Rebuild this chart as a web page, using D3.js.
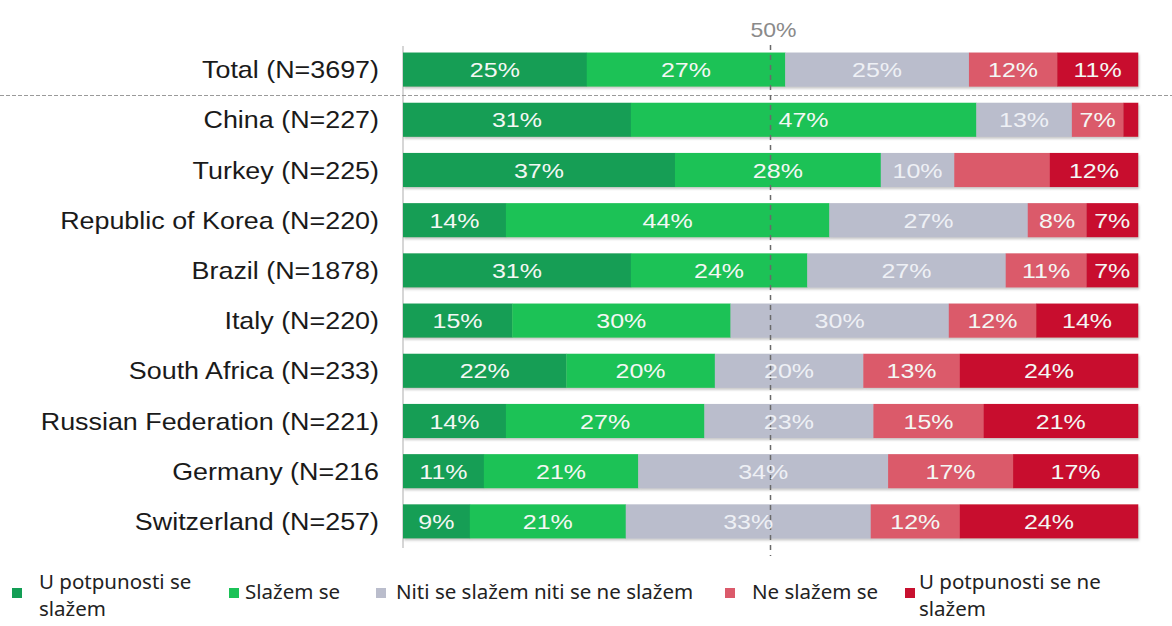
<!DOCTYPE html>
<html>
<head>
<meta charset="utf-8">
<script src="https://cdn.jsdelivr.net/npm/d3@7"></script>
<style>
  body { margin: 0; background: #fff; }
  svg { display: block; }
</style>
</head>
<body>
<div id="chart"></div>
<script>
const countries = ["Total (N=3697)", "China (N=227)", "Turkey (N=225)", "Republic of Korea (N=220)",
  "Brazil (N=1878)", "Italy (N=220)", "South Africa (N=233)", "Russian Federation (N=221)",
  "Germany (N=216", "Switzerland (N=257)"];

const answers = ["U potpunosti se slažem", "Slažem se", "Niti se slažem niti se ne slažem",
  "Ne slažem se", "U potpunosti se ne slažem"];

// percentages per country, same order as answers
const stronglyAgree = [25, 31, 37, 14, 31, 15, 22, 14, 11, 9];
const agree = [27, 47, 28, 44, 24, 30, 20, 27, 21, 21];
const neutral = [25, 13, 10, 27, 27, 30, 20, 23, 34, 33];
const disagree = [12, 7, 13, 8, 11, 12, 13, 15, 17, 12];
const stronglyDisagree = [11, 2, 12, 7, 7, 14, 24, 21, 17, 24];

// segments printed without a number in the picture: [country index, answer index]
const unlabeled = [[1, 4], [2, 3]];

const colors = ["#139e55", "#1bc257", "#babdcc", "#db5a6b", "#c8112f"];

const width = 1172, height = 626;
const svg = d3.select("#chart").append("svg")
  .attr("width", width)
  .attr("height", height);

const defs = svg.append("defs");
defs.append("filter").attr("id", "shadow")
  .attr("x", "-5%").attr("y", "-30%").attr("width", "110%").attr("height", "170%")
  .append("feDropShadow")
  .attr("dx", 1).attr("dy", 2).attr("stdDeviation", 1.2)
  .attr("flood-color", "#888").attr("flood-opacity", 0.45);

const x = d3.scaleLinear().domain([0, 1]).range([403, 1138]);
const y = d3.scaleBand().domain(countries).range([44.5, 546.5])
  .paddingInner(0.32).paddingOuter(0.16);

const series = [stronglyAgree, agree, neutral, disagree, stronglyDisagree];

const rows = countries.map((c, i) => {
  const vals = series.map(s => s[i]);
  const sum = d3.sum(vals);
  let acc = 0;
  const segs = vals.map((v, j) => {
    const seg = { country: c, row: i, answer: j, value: v, x0: acc / sum, x1: (acc + v) / sum };
    acc += v;
    return seg;
  });
  return { country: c, segs };
});

// axis line at 0
svg.append("line")
  .attr("x1", x(0)).attr("x2", x(0))
  .attr("y1", 46).attr("y2", 548)
  .attr("stroke", "#c9c9c9").attr("stroke-width", 1.5);

// separator between total and countries
svg.append("line")
  .attr("x1", 0).attr("x2", width)
  .attr("y1", 95.5).attr("y2", 95.5)
  .attr("stroke", "#9a9a9a").attr("stroke-width", 1.2)
  .attr("stroke-dasharray", "4,2");

const rowG = svg.selectAll("g.row")
  .data(rows)
  .join("g")
  .attr("class", "row")
  .attr("filter", "url(#shadow)");

rowG.selectAll("rect")
  .data(d => d.segs)
  .join("rect")
  .attr("x", d => x(d.x0))
  .attr("width", d => x(d.x1) - x(d.x0) + 0.3)
  .attr("y", d => y(d.country))
  .attr("height", y.bandwidth())
  .attr("fill", d => colors[d.answer]);

// dashed 50% marker
svg.append("line")
  .attr("x1", x(0.5)).attr("x2", x(0.5))
  .attr("y1", 45).attr("y2", 556)
  .attr("stroke", "#6a6a6a").attr("stroke-width", 1.5)
  .attr("stroke-dasharray", "5,5");

svg.append("text")
  .attr("transform", `translate(${x(0.5) + 3},37) scale(1.15,1)`)
  .attr("text-anchor", "middle")
  .attr("font-family", "Liberation Sans, Arial, sans-serif")
  .attr("font-size", 20)
  .attr("fill", "#8a8a8a")
  .text("50%");

const isHidden = d => unlabeled.some(u => u[0] === d.row && u[1] === d.answer);

svg.append("g").selectAll("text")
  .data(rows.flatMap(r => r.segs).filter(d => !isHidden(d)))
  .join("text")
  .attr("transform", d => `translate(${(x(d.x0) + x(d.x1)) / 2},${y(d.country) + y.bandwidth() / 2 + 7.5}) scale(1.22,1)`)
  .attr("text-anchor", "middle")
  .attr("font-family", "Liberation Sans, Arial, sans-serif")
  .attr("font-size", 20.5)
  .attr("fill", d => d.answer === 2 ? "#eef0f5" : "#f4f7f4")
  .text(d => d.value + "%");

// country labels
svg.append("g").selectAll("text")
  .data(countries)
  .join("text")
  .attr("transform", d => `translate(379,${y(d) + y.bandwidth() / 2 + 8.5}) scale(1.12,1)`)
  .attr("text-anchor", "end")
  .attr("font-family", "Liberation Sans, Arial, sans-serif")
  .attr("font-size", 24)
  .attr("fill", "#1a1a1a")
  .text(d => d);

// legend
const legendItems = [
  { lines: ["U potpunosti se", "slažem"], mx: 12, tx: 39 },
  { lines: ["Slažem se"], mx: 229, tx: 245 },
  { lines: ["Niti se slažem niti se ne slažem"], mx: 376, tx: 396 },
  { lines: ["Ne slažem se"], mx: 725, tx: 752 },
  { lines: ["U potpunosti se ne", "slažem"], mx: 905, tx: 919 }
];

const leg = svg.append("g").selectAll("g")
  .data(legendItems)
  .join("g");

leg.append("rect")
  .attr("x", d => d.mx)
  .attr("y", 588)
  .attr("width", 10).attr("height", 10)
  .attr("fill", (d, i) => colors[i]);

leg.each(function (d, i) {
  const t = d3.select(this).append("text")
    .attr("font-family", "Noto Sans, Open Sans, sans-serif")
    .attr("font-size", 20.5)
    .attr("fill", "#222");
  const y0 = d.lines.length > 1 ? 589 : 599;
  d.lines.forEach((ln, k) => {
    t.append("tspan")
      .attr("x", d.tx)
      .attr("y", y0 + k * 27)
      .text(ln);
  });
});
</script>
</body>
</html>
